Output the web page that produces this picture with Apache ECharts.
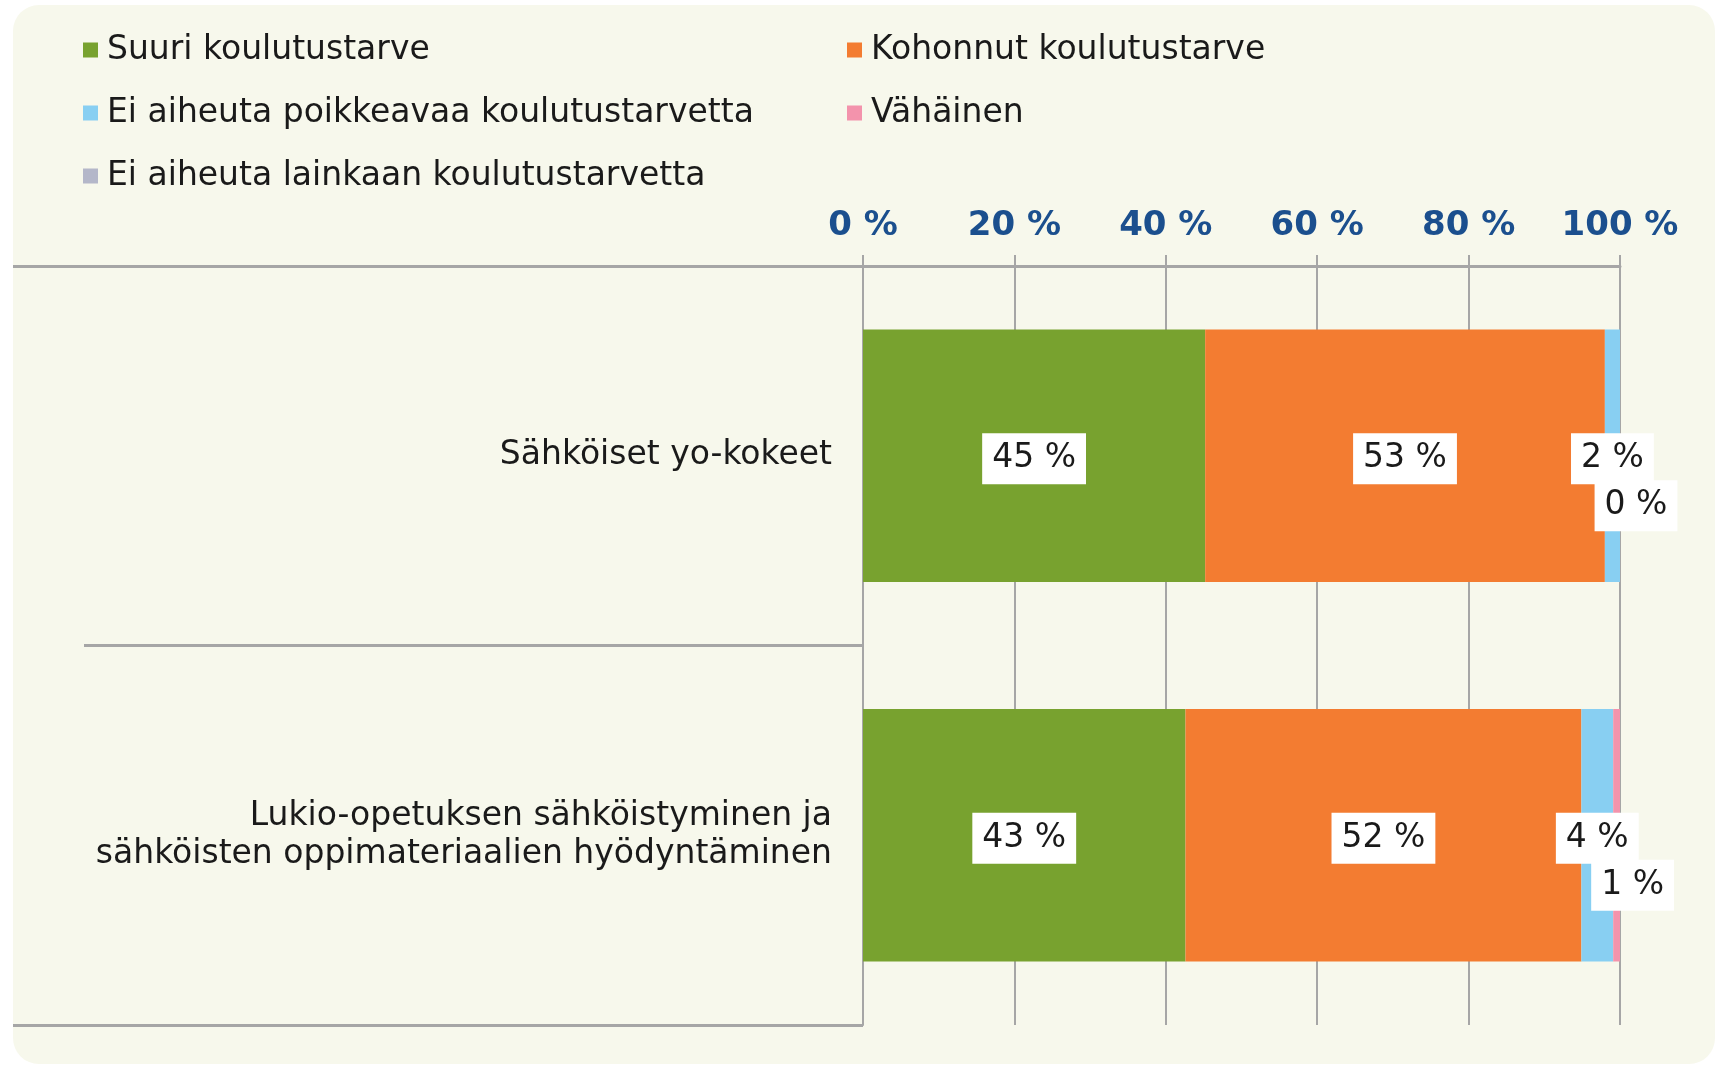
<!DOCTYPE html>
<html>
<head>
<meta charset="utf-8">
<script src="https://cdn.jsdelivr.net/npm/echarts@6/dist/echarts.min.js"></script>
<style>
html,body{margin:0;padding:0;background:#ffffff;}
#chart{width:1724px;height:1066px;}
</style>
</head>
<body>
<div id="chart"></div>
<script>
var categories = ['Sähköiset yo-kokeet', 'Lukio-opetuksen sähköistyminen ja\nsähköisten oppimateriaalien hyödyntäminen'];
var seriesNames = ['Suuri koulutustarve', 'Kohonnut koulutustarve', 'Ei aiheuta poikkeavaa koulutustarvetta', 'Vähäinen', 'Ei aiheuta lainkaan koulutustarvetta'];
var suuri = [45.2, 42.6];
var kohonnut = [52.8, 52.3];
var eiPoikkeavaa = [2.0, 4.2];
var vahainen = [0, 0.9];
var eiLainkaan = [0, 0];
var tickValues = [0, 20, 40, 60, 80, 100];

var colors = ['#78A22F', '#F37C31', '#88CFF2', '#F393AC', '#B4B7C9'];
var FONT = 'DejaVu Sans';
var chart = echarts.init(document.getElementById('chart'));

var labelBase = {
  show: true,
  position: 'inside',
  color: '#1a1a1a',
  fontFamily: FONT,
  fontSize: 33,
  backgroundColor: '#ffffff',
  padding: [10, 10, 8, 10],
  offset: [0, 3],
  formatter: function (p) { return Math.round(p.value) + ' %'; }
};

function mk(name, data, idx, extraLabel) {
  var lbl = Object.assign({}, labelBase, extraLabel || {});
  return {
    name: name,
    type: 'bar',
    stack: 'total',
    data: data,
    barCategoryGap: '33.5%',
    itemStyle: { color: colors[idx] },
    label: lbl,
    emphasis: { disabled: true }
  };
}

var option = {
  backgroundColor: '#ffffff',
  animation: false,
  graphic: [
    { type: 'rect', z: -10, silent: true, shape: { x: 13, y: 5, width: 1702, height: 1059, r: 26 }, style: { fill: '#F7F8EC' } },
    { type: 'line', z: 10, silent: true, shape: { x1: 13, y1: 266.5, x2: 86, y2: 266.5 }, style: { stroke: '#A6A6A6', lineWidth: 3 } },
    { type: 'line', z: 10, silent: true, shape: { x1: 13, y1: 1025.5, x2: 86, y2: 1025.5 }, style: { stroke: '#A6A6A6', lineWidth: 3 } }
  ],
  color: colors,
  legend: [
    {
      orient: 'vertical',
      left: 78, top: 27,
      itemWidth: 15, itemHeight: 15, itemGap: 27,
      icon: 'rect',
      data: [seriesNames[0], seriesNames[2], seriesNames[4]],
      textStyle: { fontFamily: FONT, fontSize: 33, color: '#1a1a1a', lineHeight: 36, padding: [0, 0, 0, 4] }
    },
    {
      orient: 'vertical',
      left: 842, top: 27,
      itemWidth: 15, itemHeight: 15, itemGap: 27,
      icon: 'rect',
      data: [seriesNames[1], seriesNames[3]],
      textStyle: { fontFamily: FONT, fontSize: 33, color: '#1a1a1a', lineHeight: 36, padding: [0, 0, 0, 4] }
    }
  ],
  grid: { left: 863, right: 104, top: 266, bottom: 41, containLabel: false },
  xAxis: {
    type: 'value',
    position: 'top',
    min: 0, max: 100, interval: 20,
    axisLine: { show: true, lineStyle: { color: '#A6A6A6', width: 3 } },
    axisTick: { show: true, length: 11, lineStyle: { color: '#A6A6A6', width: 2 } },
    splitLine: { show: true, lineStyle: { color: '#A6A6A6', width: 2 } },
    axisLabel: {
      margin: 23,
      formatter: '{value} %',
      color: '#1B4F8E',
      fontWeight: 'bold',
      fontFamily: FONT,
      fontSize: 34
    }
  },
  yAxis: {
    type: 'category',
    inverse: true,
    data: categories,
    axisLine: { show: true, lineStyle: { color: '#A6A6A6', width: 2 } },
    axisTick: { show: true, length: 779, lineStyle: { color: '#A6A6A6', width: 3 } },
    axisLabel: {
      margin: 31,
      align: 'right',
      color: '#1a1a1a',
      fontFamily: FONT,
      fontSize: 33,
      lineHeight: 38
    }
  },
  series: [
    mk(seriesNames[0], suuri, 0),
    mk(seriesNames[1], kohonnut, 1),
    mk(seriesNames[2], eiPoikkeavaa, 2),
    mk(seriesNames[3], vahainen, 3, { offset: [16, 50] }),
    mk(seriesNames[4], eiLainkaan, 4, { show: false })
  ]
};
chart.setOption(option);
</script>
</body>
</html>
